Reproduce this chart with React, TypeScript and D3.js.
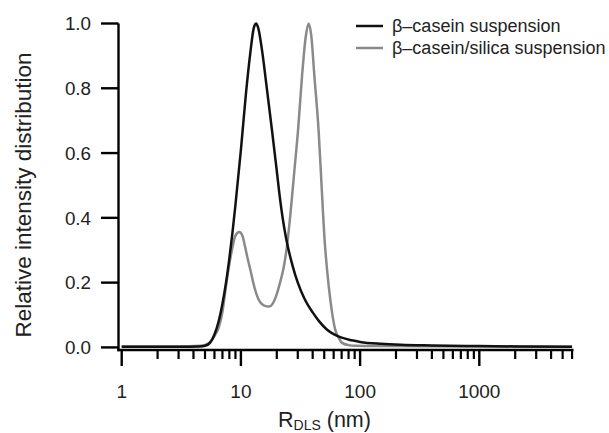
import React from "react";
import * as d3 from "d3";

const xTickValues = [1, 10, 100, 1000];
const xTickLabels = ["1", "10", "100", "1000"];
const yTickValues = [0, 0.2, 0.4, 0.6, 0.8, 1.0];
const yTickLabels = ["0.0", "0.2", "0.4", "0.6", "0.8", "1.0"];

const seriesNames = ["β–casein suspension", "β–casein/silica suspension"];

const caseinR = [1, 3, 4.5, 5, 5.5, 6, 6.5, 7, 7.5, 8, 8.5, 9, 10, 11, 12, 12.8, 13.4, 14, 15, 16.5, 18.3, 20, 21.1, 22.5, 24, 27, 30, 34, 40, 45, 52, 60, 70, 85, 100, 150, 220, 400, 1000, 2000, 6000];
const caseinI = [0.002, 0.002, 0.003, 0.005, 0.014, 0.04, 0.08, 0.135, 0.2, 0.275, 0.355, 0.44, 0.61, 0.78, 0.91, 0.985, 1.0, 0.985, 0.92, 0.8, 0.665, 0.545, 0.47, 0.395, 0.335, 0.255, 0.2, 0.152, 0.108, 0.082, 0.057, 0.041, 0.03, 0.022, 0.017, 0.011, 0.008, 0.006, 0.004, 0.003, 0.002];

const silicaR = [1, 3, 4.6, 5.3, 6, 6.5, 7, 7.6, 8.4, 9, 9.7, 10.3, 10.7, 11.3, 12, 13, 14.1, 15.5, 17.3, 18.5, 19.8, 21.3, 22.8, 24.3, 26, 28, 30.3, 32.6, 35, 37, 39, 41.3, 44.9, 47.5, 50.4, 52.8, 56.3, 61.9, 66, 70.6, 80, 91, 150, 1000, 6000];
const silicaI = [0.003, 0.003, 0.005, 0.012, 0.035, 0.06, 0.11, 0.205, 0.3, 0.345, 0.356, 0.345, 0.32, 0.28, 0.24, 0.185, 0.147, 0.13, 0.126, 0.135, 0.16, 0.2, 0.245, 0.31, 0.41, 0.54, 0.68, 0.84, 0.96, 1.0, 0.96, 0.84, 0.667, 0.5, 0.33, 0.24, 0.146, 0.054, 0.03, 0.014, 0.007, 0.005, 0.004, 0.003, 0.002];

const W = 609;
const H = 433;
const FONT = "'Liberation Sans', Arial, sans-serif";

export default function App() {
  const x = d3.scaleLog().domain([0.94, 6050]).range([118.5, 572.5]);
  const y = d3.scaleLinear().domain([-0.008, 1]).range([350, 23.5]);
  const axisY = 350;

  const line = d3
    .line<[number, number]>()
    .x((d) => x(d[0]))
    .y((d) => y(d[1]))
    .curve(d3.curveMonotoneX);

  const caseinData = caseinR.map((r, i) => [r, caseinI[i]] as [number, number]);
  const silicaData = silicaR.map((r, i) => [r, silicaI[i]] as [number, number]);

  const minorTicks: number[] = [];
  for (let dec = 1; dec <= 1000; dec *= 10) {
    for (let m = 2; m <= 9; m++) {
      const v = dec * m;
      if (v <= 6050) minorTicks.push(v);
    }
  }

  const black = "#111";
  const gray = "#8a8a8a";

  return (
    <svg
      width={W}
      height={H}
      style={{ position: "absolute", left: 0, top: 0, background: "#fff" }}
      fontFamily={FONT}
    >
      <rect width={W} height={H} fill="#fff" />
      {/* curves */}
      <path d={line(silicaData) || ""} fill="none" stroke={gray} strokeWidth={2.5} strokeLinejoin="round" />
      <path d={line(caseinData) || ""} fill="none" stroke={black} strokeWidth={2.5} strokeLinejoin="round" />

      {/* y axis */}
      <line x1={118.5} x2={118.5} y1={y(1)} y2={axisY + 1.2} stroke="#000" strokeWidth={2.4} />
      {yTickValues.map((v, i) => (
        <g key={"yt" + i}>
          <line x1={101} x2={118.5} y1={y(v)} y2={y(v)} stroke="#000" strokeWidth={2.4} />
          <text x={91} y={y(v)} dy="0.36em" textAnchor="end" fontSize={18.8} fill="#222">
            {yTickLabels[i]}
          </text>
        </g>
      ))}

      {/* x axis */}
      <line x1={117.3} x2={573.5} y1={axisY} y2={axisY} stroke="#000" strokeWidth={2.4} />
      {minorTicks.map((v, i) => (
        <line key={"mt" + i} x1={x(v)} x2={x(v)} y1={axisY} y2={axisY + 9} stroke="#000" strokeWidth={2.2} />
      ))}
      {xTickValues.map((v, i) => (
        <g key={"xt" + i}>
          <line x1={x(v)} x2={x(v)} y1={axisY} y2={axisY + 16} stroke="#000" strokeWidth={2.4} />
          <text x={x(v)} y={398} textAnchor="middle" fontSize={19} fill="#222">
            {xTickLabels[i]}
          </text>
        </g>
      ))}

      {/* axis titles */}
      <text x={278} y={427} fontSize={21.5} fill="#222">
        R
        <tspan fontSize={14} dy={3}>DLS</tspan>
        <tspan dy={-3}> (nm)</tspan>
      </text>
      <text
        transform="translate(31,195) rotate(-90)"
        textAnchor="middle"
        fontSize={22.5}
        fill="#222"
      >
        Relative intensity distribution
      </text>

      {/* legend */}
      <line x1={356} x2={383} y1={26} y2={26} stroke={black} strokeWidth={2.5} />
      <text x={392} y={31.5} fontSize={18} fill="#222">{seriesNames[0]}</text>
      <line x1={356} x2={383} y1={48} y2={48} stroke={gray} strokeWidth={2.5} />
      <text x={392} y={53.5} fontSize={18} fill="#222">{seriesNames[1]}</text>
    </svg>
  );
}
